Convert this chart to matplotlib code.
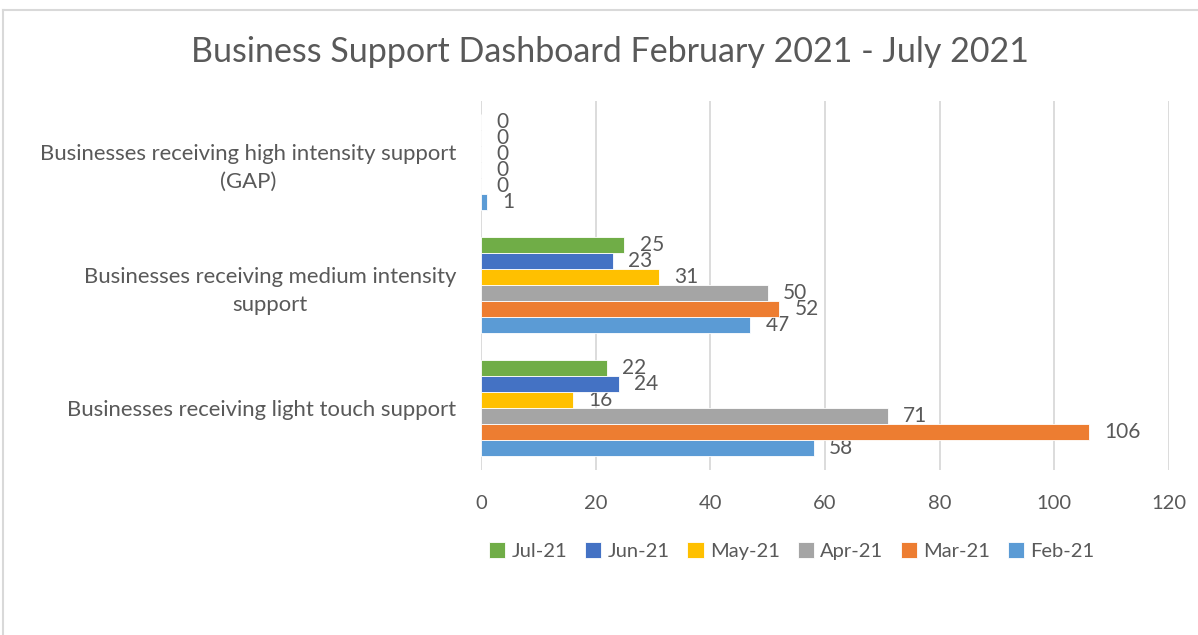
"""
Business support dashboard, Feb - Jul 2021, as grouped horizontal bars.
"""
import numpy as np
import matplotlib.pyplot as plt
from matplotlib.lines import Line2D

plt.rcParams['font.family'] = ['Lato', 'DejaVu Sans']

CATEGORIES = ["Businesses receiving light touch support",
              "Businesses receiving medium intensity\nsupport",
              "Businesses receiving high intensity support\n(GAP)"]

# series listed bottom bar first, as Excel stacks them
MONTHS = ["Feb-21", "Mar-21", "Apr-21", "May-21", "Jun-21", "Jul-21"]
FEB = [58, 47, 1]
MAR = [106, 52, 0]
APR = [71, 50, 0]
MAY = [16, 31, 0]
JUN = [24, 23, 0]
JUL = [22, 25, 0]

COLORS = ["#5B9BD5", "#ED7D31", "#A5A5A5", "#FFC000", "#4472C4", "#70AD47"]
TEXT = "#595959"
GRID = "#D9D9D9"


def main():
    series = [FEB, MAR, APR, MAY, JUN, JUL]
    fig = plt.figure(figsize=(11.98, 6.35), dpi=100)
    ax = fig.add_axes([0.4015, 0.260, 0.5743, 0.581])

    y = np.arange(len(CATEGORIES))
    h = 0.13
    handles = []
    for i, (vals, month, col) in enumerate(zip(series, MONTHS, COLORS)):
        bars = ax.barh(y + (i - 2.5) * h, vals, height=h, color=col,
                       edgecolor="white", linewidth=0.6, label=month, zorder=3)
        ax.bar_label(bars, padding=11, fontsize=15, color=TEXT)
        handles.append(bars)

    ax.set_xlim(0, 120)
    ax.set_ylim(-0.5, 2.5)
    ax.set_xticks(range(0, 121, 20))
    ax.set_yticks(y)
    ax.set_yticklabels(CATEGORIES, multialignment="center", linespacing=1.45)
    ax.tick_params(axis="y", length=0, pad=18, labelsize=15.9, labelcolor=TEXT)
    ax.tick_params(axis="x", length=0, pad=18, labelsize=14.5, labelcolor=TEXT)
    ax.grid(axis="x", color=GRID, linewidth=1.3, zorder=0)
    for s in ax.spines.values():
        s.set_visible(False)

    fig.text(0.509, 0.918, "Business Support Dashboard February 2021 - July 2021",
             ha="center", va="center", fontsize=24.5, color=TEXT)

    leg = fig.legend(handles[::-1], MONTHS[::-1], loc="center",
                     bbox_to_anchor=(0.661, 0.132), ncol=6, frameon=False,
                     fontsize=14.5, handlelength=0.8, handleheight=0.8,
                     handletextpad=0.3, columnspacing=0.9)
    for t in leg.get_texts():
        t.set_color(TEXT)

    # chart frame, cut off at right and bottom like the screenshot
    fig.add_artist(Line2D([3 / 1198, 3 / 1198], [0, 1 - 10 / 635],
                          transform=fig.transFigure, color=GRID, linewidth=1.5))
    fig.add_artist(Line2D([3 / 1198, 1], [1 - 10 / 635, 1 - 10 / 635],
                          transform=fig.transFigure, color=GRID, linewidth=1.5))

    fig.savefig("out.png", dpi=100)


if __name__ == '__main__':
    main()
